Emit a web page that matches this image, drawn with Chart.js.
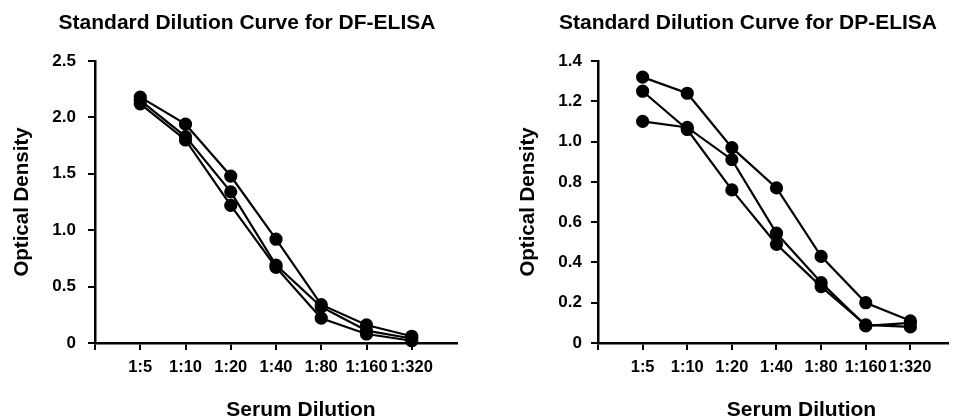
<!DOCTYPE html>
<html>
<head>
<meta charset="utf-8">
<script src="https://cdn.jsdelivr.net/npm/chart.js@4.4.0/dist/chart.umd.min.js"></script>
<style>
  html, body { margin: 0; padding: 0; background: #fff; }
  .panel { position: absolute; top: 0; width: 478px; height: 418px; }
</style>
</head>
<body>
<div class="panel" style="left:0"><canvas id="dfChart"></canvas></div>
<div class="panel" style="left:478px"><canvas id="dpChart"></canvas></div>
<script>
// Verdünnungsstufen (x-Achse)
const dilutions = ['1:5', '1:10', '1:20', '1:40', '1:80', '1:160', '1:320'];

// DF-ELISA, drei Läufe
const dfRun1 = [2.18, 1.94, 1.48, 0.92, 0.34, 0.16, 0.06];
const dfRun2 = [2.15, 1.83, 1.34, 0.69, 0.32, 0.11, 0.04];
const dfRun3 = [2.12, 1.80, 1.22, 0.67, 0.22, 0.08, 0.02];

// DP-ELISA, drei Läufe
const dpRun1 = [1.32, 1.24, 0.97, 0.77, 0.43, 0.20, 0.11];
const dpRun2 = [1.10, 1.07, 0.91, 0.545, 0.30, 0.085, 0.10];
const dpRun3 = [1.25, 1.06, 0.76, 0.49, 0.28, 0.09, 0.08];

const FONT = '"Liberation Sans", Arial, Helvetica, sans-serif';

// Titel und x-Achsentitel selbst zeichnen (sind gegenüber der Achse verschoben)
const panelText = {
    id: 'panelText',
    afterDraw(chart, args, opts) {
        const { ctx, chartArea } = chart;
        const x = chart.scales.x;
        ctx.save();
        ctx.fillStyle = '#000';
        ctx.textAlign = 'center';
        ctx.font = 'bold 21px ' + FONT;
        ctx.textBaseline = 'middle';
        ctx.fillText(opts.title, chartArea.left + opts.titleShift, 23);
        ctx.textBaseline = 'alphabetic';
        const mid = (x.getPixelForValue(1) + x.getPixelForValue(dilutions.length)) / 2;
        ctx.fillText(opts.xTitle, mid + 25, 416);
        ctx.restore();
    }
};

function toPoints(values) {
    return values.map((v, i) => ({ x: i + 1, y: v }));
}

function makeChart(id, runs, cfg) {
    const ctx = document.getElementById(id).getContext('2d');
    return new Chart(ctx, {
        type: 'line',
        data: {
            datasets: runs.map((r, i) => ({
                label: 'Run ' + (i + 1),
                data: toPoints(r),
                borderColor: '#000',
                backgroundColor: '#000',
                borderWidth: 2.2,
                pointRadius: 5.5,
                pointHoverRadius: 5.5,
                tension: 0,
                clip: false
            }))
        },
        options: {
            responsive: false,
            animation: false,
            layout: { padding: { top: 61, right: cfg.padRight, bottom: 0, left: 0 } },
            plugins: {
                legend: { display: false },
                tooltip: { enabled: false },
                panelText: { title: cfg.title, titleShift: cfg.titleShift, xTitle: 'Serum Dilution' }
            },
            scales: {
                x: {
                    type: 'linear',
                    min: 0,
                    max: cfg.xMax,
                    afterFit: s => { s.height = 75; },
                    afterBuildTicks: s => {
                        s.ticks = [{ value: 0 }].concat(dilutions.map((d, i) => ({ value: i + 1 })));
                    },
                    ticks: {
                        autoSkip: false,
                        maxRotation: 0,
                        padding: 8,
                        color: '#000',
                        font: { family: FONT, size: 16.5, weight: 'bold' },
                        callback: v => dilutions[v - 1] || ''
                    },
                    grid: { drawOnChartArea: false, drawTicks: true, tickLength: 7, color: '#000', lineWidth: 2 },
                    border: { display: true, color: '#000', width: 2.5 }
                },
                y: {
                    min: 0,
                    max: cfg.yMax,
                    afterFit: s => { s.width = cfg.yWidth; },
                    ticks: {
                        stepSize: cfg.yStep,
                        padding: cfg.yPad,
                        color: '#000',
                        font: { family: FONT, size: 17, weight: 'bold' },
                        callback: v => v === 0 ? '0' : v.toFixed(1)
                    },
                    grid: { drawOnChartArea: false, drawTicks: true, tickLength: 7, color: '#000', lineWidth: 2 },
                    border: { display: true, color: '#000', width: 2.5 },
                    title: {
                        display: true,
                        text: 'Optical Density',
                        color: '#000',
                        font: { family: FONT, size: 20.5, weight: 'bold', lineHeight: 1 },
                        padding: { top: cfg.yTitlePad, bottom: 0 }
                    }
                }
            }
        },
        plugins: [panelText]
    });
}

document.getElementById('dfChart').width = 478;
document.getElementById('dfChart').height = 418;
document.getElementById('dpChart').width = 478;
document.getElementById('dpChart').height = 418;

makeChart('dfChart', [dfRun1, dfRun2, dfRun3], {
    title: 'Standard Dilution Curve for DF-ELISA',
    titleShift: 152,
    xMax: 8,
    yMax: 2.5,
    yStep: 0.5,
    yWidth: 95,
    yPad: 12,
    yTitlePad: 12,
    padRight: 21
});

makeChart('dpChart', [dpRun1, dpRun2, dpRun3], {
    title: 'Standard Dilution Curve for DP-ELISA',
    titleShift: 150,
    xMax: 7.85,
    yMax: 1.4,
    yStep: 0.2,
    yWidth: 120,
    yPad: 9,
    yTitlePad: 40,
    padRight: 1
});
</script>
</body>
</html>
